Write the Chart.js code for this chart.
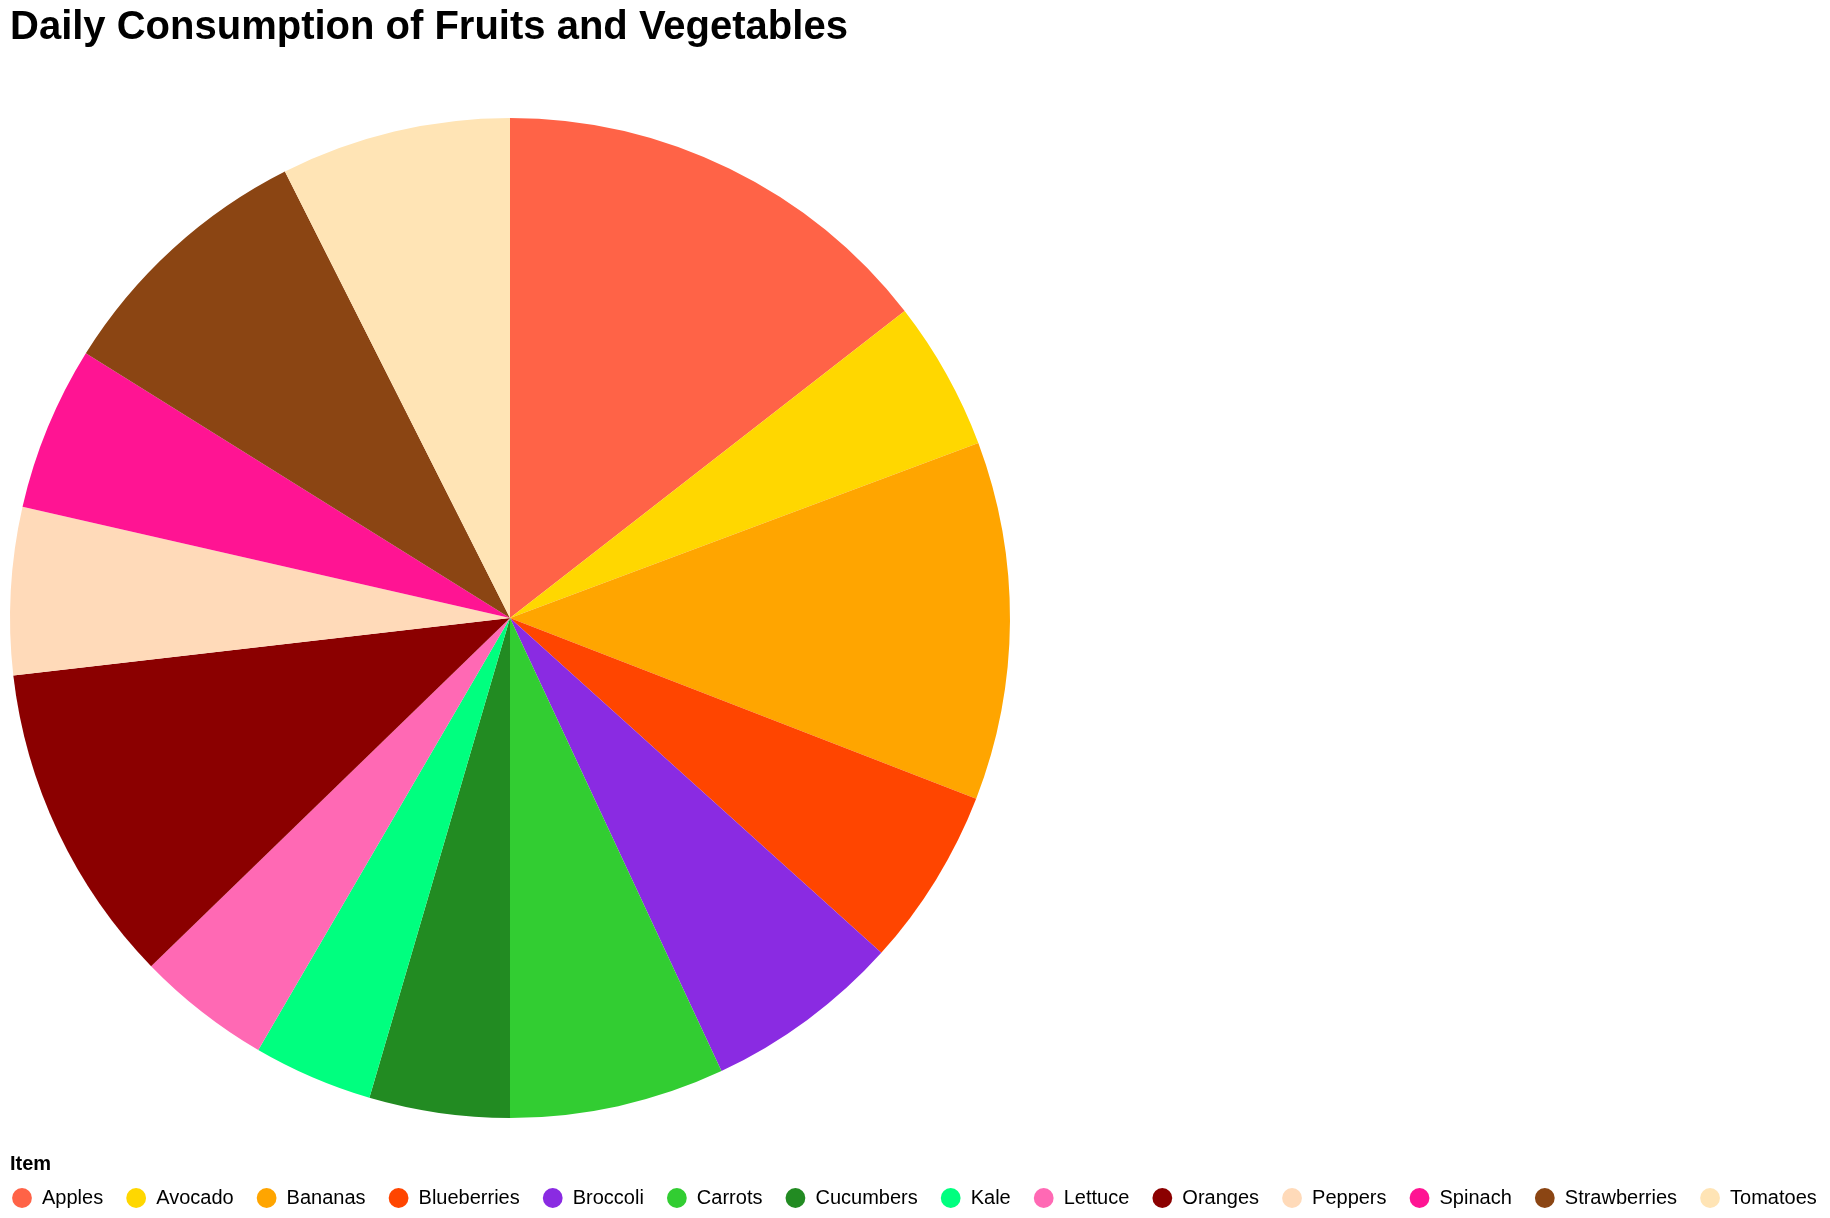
<!DOCTYPE html>
<html>
<head>
<meta charset="utf-8">
<title>Daily Consumption of Fruits and Vegetables</title>
<script src="https://cdn.jsdelivr.net/npm/chart.js@4/dist/chart.umd.min.js"></script>
<style>
    html, body { margin: 0; padding: 0; background: #fff; }
    #wrap { width: 1830px; height: 1218px; position: relative; }
</style>
</head>
<body>
<div id="wrap"><canvas id="pieChart"></canvas></div>
<script>
// Values (daily amount per item)
const items = ['Apples', 'Avocado', 'Bananas', 'Blueberries', 'Broccoli', 'Carrots', 'Cucumbers',
    'Kale', 'Lettuce', 'Oranges', 'Peppers', 'Spinach', 'Strawberries', 'Tomatoes'];
const consumption = [150, 50, 120, 60, 66, 72, 47, 40, 45, 108, 56, 55, 90, 77];

const sliceColors = ['#FF6347', '#FFD700', '#FFA500', '#FF4500', '#8A2BE2', '#32CD32', '#228B22',
    '#00FF7F', '#FF69B4', '#8B0000', '#FFDAB9', '#FF1493', '#8B4513', '#FFE4B5'];

Chart.defaults.font.family = "'Liberation Sans', Arial, sans-serif";
Chart.defaults.color = '#000';

// Put the pie on the left side (like the original) and line up the titles
const placeBoxes = {
    id: 'placeBoxes',
    afterLayout(chart) {
        chart.chartArea = { left: 10, top: 118, right: 1010, bottom: 1118, width: 1000, height: 1000 };
        const TitleBox = chart.titleBlock.constructor;
        chart.boxes.forEach(box => {
            if (box instanceof TitleBox) {
                box.left = 10;
                box.right = 1820;
                box.width = 1810;
            }
        });
    }
};

const ctx = document.getElementById('pieChart').getContext('2d');
const pieChart = new Chart(ctx, {
    type: 'pie',
    data: {
        labels: items,
        datasets: [{
            label: 'Item',
            data: consumption,
            backgroundColor: sliceColors,
            borderWidth: 0
        }]
    },
    options: {
        responsive: true,
        maintainAspectRatio: false,
        animation: false,
        layout: {
            padding: { left: -11, right: -30, top: 0, bottom: 0 }
        },
        plugins: {
            title: {
                display: true,
                text: 'Daily Consumption of Fruits and Vegetables',
                align: 'start',
                font: { size: 40, weight: 'bold' },
                padding: { top: 4, bottom: 10 }
            },
            // legend heading, kept just above the legend row
            subtitle: {
                display: true,
                text: 'Item',
                position: 'bottom',
                align: 'start',
                weight: 900,
                font: { size: 20, weight: 'bold', lineHeight: 0.5 },
                padding: { top: 0, bottom: -4 }
            },
            legend: {
                position: 'bottom',
                align: 'start',
                labels: {
                    usePointStyle: true,
                    pointStyle: 'circle',
                    boxWidth: 20,
                    boxHeight: 14,
                    padding: 23,
                    font: { size: 20 }
                }
            },
            tooltip: { enabled: false }
        }
    },
    plugins: [placeBoxes]
});
</script>
</body>
</html>
